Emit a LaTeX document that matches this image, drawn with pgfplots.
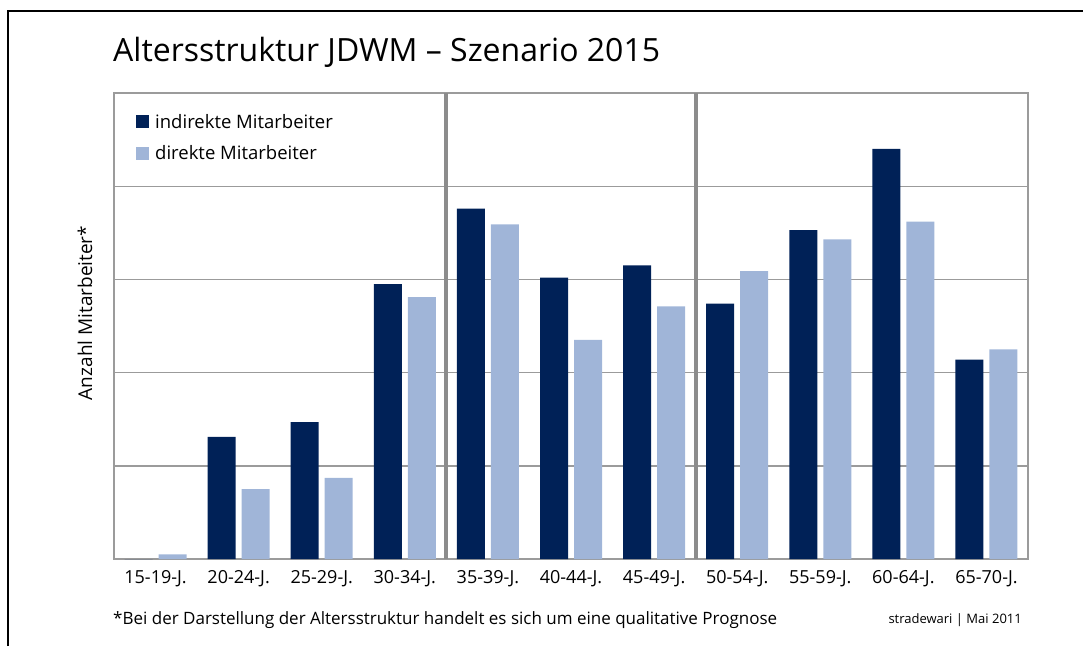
\documentclass[border=0pt]{standalone}
\usepackage{pgfplots}
\pgfplotsset{compat=1.18}
\usepackage{fontspec}
\setmainfont{Open Sans}
\definecolor{dark}{RGB}{0,33,87}
\definecolor{light}{RGB}{160,181,216}
\definecolor{gridgray}{RGB}{155,155,155}
\definecolor{sepgray}{RGB}{140,140,140}
\begin{document}
\begin{tikzpicture}
\useasboundingbox (-114pt,-87pt) rectangle (969pt,559pt);
\draw[black, line width=1.6pt] (-106pt,-87pt) -- (-106pt,548pt) -- (969pt,548pt);
\begin{axis}[
  at={(0pt,0pt)}, anchor=south west,
  scale only axis, width=914pt, height=466pt,
  xmin=-0.5, xmax=10.5, ymin=0, ymax=5,
  ybar, bar width=28pt, bar shift auto=false,
  xtick={0,...,10},
  xticklabels={15-19-J.,20-24-J.,25-29-J.,30-34-J.,35-39-J.,40-44-J.,45-49-J.,50-54-J.,55-59-J.,60-64-J.,65-70-J.},
  ytick={1,2,3,4}, yticklabels={},
  major tick length=0pt,
  ymajorgrids, grid style={gridgray, line width=1.4pt},
  axis line style={gridgray, line width=1.6pt},
  tick label style={font=\fontsize{18}{20}\selectfont},
  xticklabel style={yshift=-8pt},
  axis on top=false,
  legend style={draw=none, fill=none, at={(19pt,449pt)}, anchor=north west, font=\fontsize{18.5}{22}\selectfont, row sep=12pt, column sep=4pt, legend cell align=left},
  legend image code/.code={\fill[#1] (0pt,-6.5pt) rectangle (13pt,6.5pt);},
]
\addplot[fill=dark, draw=none, bar shift=-17pt] coordinates {
 (0,0) (1,1.31) (2,1.47) (3,2.95) (4,3.76) (5,3.02) (6,3.15) (7,2.74) (8,3.53) (9,4.40) (10,2.14)};
\addlegendentry{indirekte Mitarbeiter}
\addplot[fill=light, draw=none, bar shift=17pt] coordinates {
 (0,0.05) (1,0.75) (2,0.87) (3,2.81) (4,3.59) (5,2.35) (6,2.71) (7,3.09) (8,3.43) (9,3.62) (10,2.25)};
\addlegendentry{direkte Mitarbeiter}
\draw[sepgray, line width=4pt] (axis cs:3.5,0) -- (axis cs:3.5,5);
\draw[sepgray, line width=4pt] (axis cs:6.5,0) -- (axis cs:6.5,5);
\end{axis}
\node[anchor=west, font=\fontsize{32}{38}\selectfont, inner sep=0pt] at (-1pt,507pt) {Altersstruktur JDWM – Szenario 2015};
\node[rotate=90, font=\fontsize{19}{22}\selectfont, inner sep=0pt] at (-29pt,246pt) {Anzahl Mitarbeiter*};
\node[anchor=west, font=\fontsize{17}{20}\selectfont, inner sep=0pt] at (-1pt,-61pt) {*Bei der Darstellung der Altersstruktur handelt es sich um eine qualitative Prognose};
\node[anchor=east, font=\fontsize{13}{15}\selectfont, inner sep=0pt] at (908pt,-61pt) {stradewari | Mai 2011};
\end{tikzpicture}
\end{document}
